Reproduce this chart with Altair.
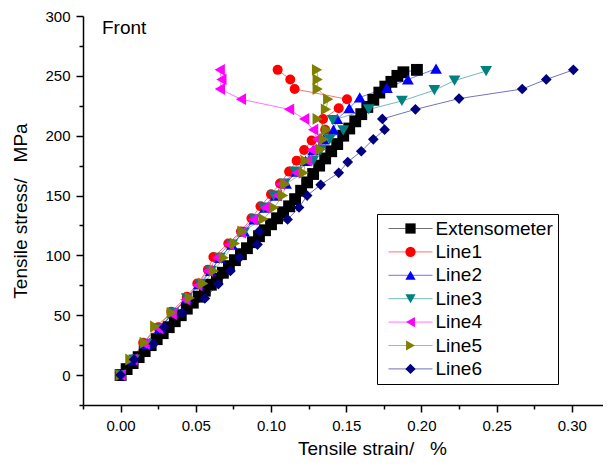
import altair as alt
import pandas as pd

FONT = "Liberation Sans, Arial, sans-serif"

series_names = ["Extensometer", "Line1", "Line2", "Line3", "Line4", "Line5", "Line6"]
series_colors = ["#000000", "#FF0000", "#0000FF", "#008080", "#FF00FF", "#808000", "#000080"]
series_shapes = ["square", "circle", "triangle-up", "triangle-down", "triangle-left", "triangle-right", "diamond"]
series_sizes = [140, 100, 140, 140, 140, 140, 115]

ext_strain = [0.000, 0.004, 0.008, 0.012, 0.016, 0.020, 0.024, 0.028, 0.032, 0.036,
              0.040, 0.044, 0.048, 0.052, 0.056, 0.060, 0.064, 0.068, 0.072, 0.076,
              0.080, 0.084, 0.088, 0.092, 0.096, 0.100, 0.104, 0.108, 0.112, 0.116,
              0.120, 0.124, 0.128, 0.132, 0.136, 0.140, 0.144, 0.148, 0.152, 0.156,
              0.160, 0.164, 0.168, 0.172, 0.176, 0.180, 0.184, 0.188, 0.197]
ext_stress = [0, 5, 10, 15, 20, 25, 30, 35, 40, 45,
              50, 55.5, 60.5, 65.5, 70.5, 75.5, 80.5, 85.5, 91, 96,
              101, 106, 111, 116, 121, 126, 131, 136, 141, 147,
              154, 161, 168, 175, 181, 187, 193, 200, 206, 212,
              218, 224, 230, 236, 241, 245, 250, 253, 255]

line1_strain = [0, 0.008, 0.015, 0.025, 0.0337, 0.044, 0.051, 0.058, 0.0617, 0.0716,
                0.080, 0.087, 0.093, 0.100, 0.106, 0.112, 0.117, 0.122, 0.127, 0.136,
                0.1346, 0.145, 0.1505, 0.1157, 0.1128, 0.1044]
line1_stress = [0, 13, 27, 40, 53, 65.5, 76.5, 88, 98.7, 110,
                120, 131, 141, 151, 160, 170, 179, 188, 196, 205,
                214, 223, 230.5, 239, 247, 255]

line2_strain = [0, 0.008, 0.017, 0.026, 0.035, 0.044, 0.052, 0.060, 0.066, 0.074,
                0.082, 0.089, 0.096, 0.103, 0.110, 0.117, 0.123, 0.128, 0.135, 0.1415,
                0.144, 0.152, 0.159, 0.177, 0.191, 0.2097]
line2_stress = [0, 13, 26, 39, 52, 64, 76, 87, 98, 109,
                120, 130, 140, 150, 160, 170, 179, 188, 197, 205,
                214, 223, 232, 240, 247, 256]

line3_strain = [0, 0.009, 0.017, 0.026, 0.035, 0.044, 0.053, 0.060, 0.066, 0.074,
                0.082, 0.089, 0.095, 0.1017, 0.109, 0.116, 0.128, 0.133, 0.139, 0.148,
                0.141, 0.165, 0.187, 0.2086, 0.222, 0.243]
line3_stress = [0, 13, 26, 39, 52, 64, 76, 87, 98, 109,
                119, 130, 140, 150, 160, 170, 179, 188, 197, 204.5,
                213, 222, 229, 238, 246, 254]

line4_strain = [0, 0.008, 0.016, 0.025, 0.034, 0.043, 0.051, 0.058, 0.064, 0.072,
                0.080, 0.088, 0.096, 0.104, 0.106, 0.117, 0.124, 0.127, 0.1306, 0.128,
                0.122, 0.112, 0.080, 0.066, 0.067, 0.0659]
line4_stress = [0, 13, 26, 39, 51, 63, 75, 87, 98, 109,
                119, 130, 140, 150, 159.5, 169, 179, 188, 197, 205,
                214, 222, 230.5, 239, 247, 255]

line5_strain = [0, 0.0065, 0.016, 0.023, 0.034, 0.046, 0.055, 0.062, 0.0686, 0.076,
                0.081, 0.095, 0.102, 0.108, 0.1095, 0.1217, 0.123, 0.133, 0.135, 0.137,
                0.131, 0.1365, 0.138, 0.131, 0.131, 0.1306]
line5_stress = [0, 13, 27, 40.6, 52, 64.5, 76.5, 87, 98, 110,
                120, 130.5, 140, 150, 159.5, 169, 179, 188.5, 197, 205,
                214, 222, 230.5, 239, 247, 255]

line6_strain = [0, 0.009, 0.022, 0.029, 0.041, 0.056, 0.065, 0.073, 0.079, 0.091,
                0.092, 0.111, 0.1186, 0.124, 0.133, 0.145, 0.151, 0.160, 0.168, 0.1755,
                0.174, 0.196, 0.225, 0.267, 0.283, 0.301]
line6_stress = [0, 13, 26, 40, 52, 64, 76, 87, 98, 109,
                120, 130, 140, 150, 159, 169, 178, 187, 197, 205,
                214, 222, 231, 239, 247, 255]

x_major_ticks = [0.0, 0.05, 0.10, 0.15, 0.20, 0.25, 0.30]
x_minor_ticks = [-0.025, 0.025, 0.075, 0.125, 0.175, 0.225, 0.275]
y_major_ticks = [0, 50, 100, 150, 200, 250, 300]
y_minor_ticks = [-25, 25, 75, 125, 175, 225, 275]
annotation_text = ["Front"]

all_strain = [ext_strain, line1_strain, line2_strain, line3_strain, line4_strain, line5_strain, line6_strain]
all_stress = [ext_stress, line1_stress, line2_stress, line3_stress, line4_stress, line5_stress, line6_stress]

rows = []
idx = 0
for name, xs_, ys_ in zip(series_names, all_strain, all_stress):
    for xv, yv in zip(xs_, ys_):
        rows.append({"series": name, "name": name, "grp": name, "idx": idx,
                     "strain": xv, "stress": yv})
        idx += 1
df = pd.DataFrame(rows)

xscale = alt.Scale(domain=[-0.025, 0.3207], nice=False, zero=False)
yscale = alt.Scale(domain=[-25, 300], nice=False, zero=False)

common_axis = dict(grid=False, tickColor="black", tickWidth=1.5)

x_major = alt.Axis(values=x_major_ticks, format=".2f", orient="bottom",
                   title="Tensile strain/\u00a0\u00a0\u00a0%",
                   domainColor="black", domainWidth=1.5, tickSize=7,
                   labelFont=FONT, labelFontSize=15, labelColor="black", labelPadding=6,
                   labelFlush=False,
                   titleFont=FONT, titleFontSize=19, titleFontWeight="normal",
                   titleColor="black", titlePadding=6, titleX=289, **common_axis)
y_major = alt.Axis(values=y_major_ticks, format="d", orient="left",
                   title="Tensile stress/\u00a0\u00a0\u00a0MPa",
                   domainColor="black", domainWidth=1.5, tickSize=7,
                   labelFont=FONT, labelFontSize=15, labelColor="black", labelPadding=6,
                   labelFlush=False,
                   titleFont=FONT, titleFontSize=19, titleFontWeight="normal",
                   titleColor="black", titlePadding=14, **common_axis)
x_minor = alt.Axis(values=x_minor_ticks, labels=False, domain=False, tickSize=4,
                   orient="bottom", title=None, **common_axis)
y_minor = alt.Axis(values=y_minor_ticks, labels=False, domain=False, tickSize=4,
                   orient="left", title=None, **common_axis)

legend_common = dict(orient="none", legendX=294, legendY=198, direction="vertical",
                     symbolSize=105, symbolOffset=19, labelOffset=15.5,
                     labelFont=FONT, labelFontSize=19, labelColor="black",
                     padding=5, rowPadding=3.4, labelLimit=300)

stroke_legend = alt.Legend(symbolType="M-4.3,0H4.3", symbolStrokeWidth=1,
                           symbolOpacity=0.55, labelOpacity=0, zindex=1, **legend_common)
shape_legend = alt.Legend(strokeColor="black", symbolStrokeWidth=0, zindex=2,
                          **legend_common)

lines = alt.Chart(df).mark_line(strokeWidth=1, opacity=0.55).encode(
    x=alt.X("strain:Q", scale=xscale, axis=x_major),
    y=alt.Y("stress:Q", scale=yscale, axis=y_major),
    stroke=alt.Stroke("name:N", scale=alt.Scale(range=series_colors),
                      legend=stroke_legend, title=None),
    order=alt.Order("idx:Q"),
)

points = alt.Chart(df).mark_point(filled=True, opacity=1).encode(
    x=alt.X("strain:Q", scale=xscale, axis=x_minor),
    y=alt.Y("stress:Q", scale=yscale, axis=y_minor),
    fill=alt.Fill("series:N", scale=alt.Scale(domain=series_names, range=series_colors),
                  legend=shape_legend, title=None),
    shape=alt.Shape("series:N", scale=alt.Scale(domain=series_names, range=series_shapes),
                    legend=shape_legend, title=None),
    size=alt.Size("grp:N", scale=alt.Scale(type="ordinal", range=series_sizes), legend=None),
    order=alt.Order("idx:Q"),
)

label = alt.Chart(pd.DataFrame({"t": annotation_text})).mark_text(
    align="left", baseline="alphabetic", font=FONT, fontSize=19, color="black"
).encode(x=alt.value(19), y=alt.value(18), text="t:N")

chart = alt.layer(lines, points, label).resolve_axis(
    x="independent", y="independent"
).properties(
    width=520, height=389,
    autosize=alt.AutoSizeParams(type="none"),
    padding={"left": 75, "top": 8, "right": 0, "bottom": 55},
).configure_view(stroke=None)

chart.save("out.html", embed_options={"renderer": "svg", "actions": False})
